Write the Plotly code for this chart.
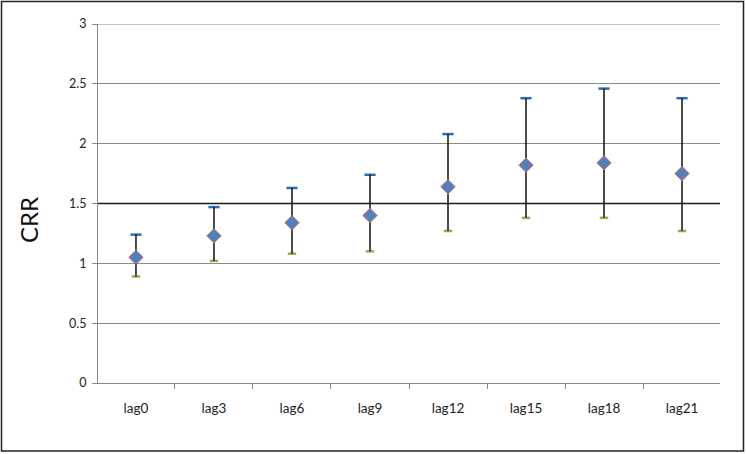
import plotly.graph_objects as go

categories = ["lag0", "lag3", "lag6", "lag9", "lag12", "lag15", "lag18", "lag21"]
crr = [1.05, 1.23, 1.34, 1.40, 1.64, 1.82, 1.84, 1.75]
upper = [1.24, 1.47, 1.63, 1.74, 2.08, 2.38, 2.46, 2.38]
lower = [0.89, 1.02, 1.08, 1.10, 1.27, 1.38, 1.38, 1.27]
y_ticks = [0, 0.5, 1, 1.5, 2, 2.5, 3]
y_tick_text = ["0", "0.5", "1", "1.5", "2", "2.5", "3"]

err_plus = [u - c for u, c in zip(upper, crr)]
err_minus = [c - l for c, l in zip(crr, lower)]

fig = go.Figure()
fig.add_trace(go.Scatter(
    x=categories, y=upper, mode="markers",
    marker=dict(symbol="line-ew", size=8, line=dict(color="#2E6DB4", width=2.5)),
    showlegend=False, hoverinfo="skip",
))
fig.add_trace(go.Scatter(
    x=categories, y=lower, mode="markers",
    marker=dict(symbol="line-ew", size=6, line=dict(color="#8DB255", width=2.5)),
    showlegend=False, hoverinfo="skip",
))
fig.add_trace(go.Scatter(
    x=categories, y=crr, mode="markers",
    marker=dict(symbol="diamond", size=11, color="#4F81BD",
                line=dict(color="#D06A6A", width=1)),
    error_y=dict(type="data", symmetric=False, array=err_plus,
                 arrayminus=err_minus, color="#111111", thickness=1.5, width=0),
    showlegend=False, hoverinfo="skip",
))

L, R, T, B = 98, 26, 24, 71
PW = 746 - L - R
PH = 454 - T - B

fig.update_layout(
    width=746, height=454,
    margin=dict(l=L, r=R, t=T, b=B),
    paper_bgcolor="white", plot_bgcolor="white",
    font=dict(family="Lato, Open Sans, sans-serif", color="#222222", size=12),
    xaxis=dict(
        type="category", showgrid=False, showline=True, linecolor="#868686",
        linewidth=1, ticks="outside", tickson="boundaries", ticklen=5,
        tickcolor="#868686", ticklabelstandoff=13, zeroline=False,
        tickfont=dict(size=13.5),
    ),
    yaxis=dict(
        range=[0, 3], tickvals=y_ticks, ticktext=y_tick_text,
        showgrid=True, gridcolor="#8A8A8A", gridwidth=1,
        showline=True, linecolor="#868686", linewidth=1,
        ticks="outside", ticklen=5, tickcolor="#868686",
        zeroline=False, tickfont=dict(size=12.5), ticklabelstandoff=3,
    ),
    shapes=[
        dict(type="line", xref="paper", yref="y", x0=0, x1=1, y0=3, y1=3,
             line=dict(color="#8A8A8A", width=1)),
        dict(type="line", xref="paper", yref="y", x0=0, x1=1, y0=1.5, y1=1.5,
             line=dict(color="#1A1A1A", width=1.5)),
        dict(type="rect", xref="paper", yref="paper",
             x0=(1.5 - L) / PW, x1=(743.5 - L) / PW,
             y0=(T + PH - 451) / PH, y1=(T + PH - 1.5) / PH,
             line=dict(color="#222222", width=1.5)),
    ],
    annotations=[
        dict(text="CRR", xref="paper", yref="paper",
             x=(28 - L) / PW, y=(T + PH - 220) / PH,
             textangle=-90, showarrow=False,
             font=dict(size=24, color="#111111"),
             xanchor="center", yanchor="middle"),
    ],
)

fig.write_html(
    "out.html",
    config={"displayModeBar": False},
    post_script="document.body.style.margin='0';document.body.style.padding='0';",
)
